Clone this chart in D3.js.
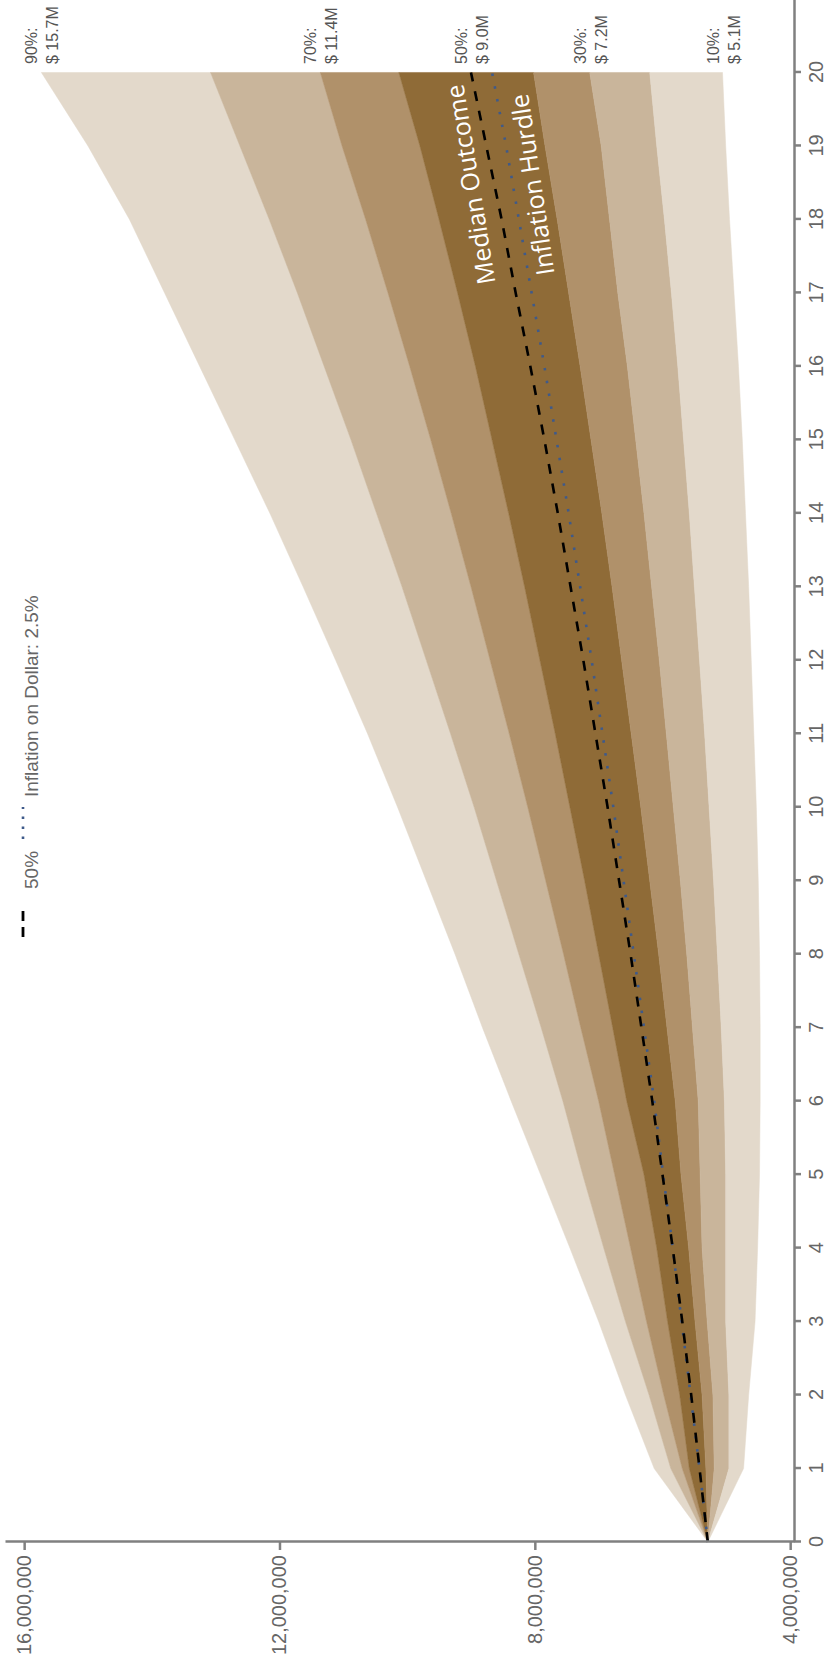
<!DOCTYPE html>
<html>
<head>
<meta charset="utf-8">
<script src="https://cdn.jsdelivr.net/npm/d3@7"></script>
<style>
  html, body { margin: 0; padding: 0; background: #fff; }
  svg { display: block; }
</style>
</head>
<body>
<svg id="chart" width="828" height="1667"></svg>
<script>
// ---- Data (values in millions of dollars) ----
const years = d3.range(0, 21);
const p90 = [5.29, 6.13, 6.58, 7.00, 7.45, 7.91, 8.37, 8.82, 9.25, 9.70, 10.15, 10.62, 11.12, 11.63, 12.15, 12.70, 13.25, 13.80, 14.35, 15.00, 15.73];
const p80 = [5.29, 5.87, 6.21, 6.58, 6.92, 7.25, 7.56, 7.90, 8.25, 8.60, 8.95, 9.32, 9.70, 10.08, 10.48, 10.88, 11.30, 11.72, 12.16, 12.62, 13.08];
const p70 = [5.29, 5.69, 5.98, 6.25, 6.50, 6.75, 7.00, 7.28, 7.55, 7.83, 8.11, 8.40, 8.70, 9.00, 9.31, 9.63, 9.96, 10.30, 10.65, 11.02, 11.36];
const p60 = [5.29, 5.58, 5.73, 5.92, 6.09, 6.29, 6.56, 6.78, 7.00, 7.22, 7.45, 7.68, 7.92, 8.16, 8.41, 8.67, 8.93, 9.21, 9.50, 9.80, 10.13];
const p50 = [5.29, 5.42, 5.55, 5.69, 5.84, 6.00, 6.16, 6.33, 6.50, 6.68, 6.86, 7.05, 7.24, 7.44, 7.64, 7.85, 8.07, 8.30, 8.52, 8.76, 9.00];
const p40 = [5.29, 5.32, 5.38, 5.49, 5.59, 5.71, 5.80, 5.93, 6.06, 6.20, 6.34, 6.49, 6.64, 6.79, 6.95, 7.12, 7.29, 7.47, 7.65, 7.84, 8.02];
const p30 = [5.29, 5.19, 5.21, 5.30, 5.38, 5.41, 5.44, 5.53, 5.62, 5.72, 5.83, 5.94, 6.05, 6.17, 6.29, 6.42, 6.55, 6.70, 6.83, 6.96, 7.14];
const p20 = [5.29, 4.96, 4.96, 5.01, 5.01, 5.01, 5.03, 5.08, 5.14, 5.20, 5.27, 5.34, 5.42, 5.50, 5.58, 5.67, 5.76, 5.86, 5.97, 6.09, 6.20];
const p10 = [5.29, 4.73, 4.65, 4.55, 4.51, 4.48, 4.47, 4.47, 4.48, 4.50, 4.53, 4.57, 4.61, 4.65, 4.70, 4.75, 4.81, 4.88, 4.95, 5.01, 5.06];
const inflation = [5.29, 5.42, 5.56, 5.70, 5.84, 5.99, 6.13, 6.29, 6.45, 6.61, 6.77, 6.94, 7.11, 7.29, 7.47, 7.66, 7.85, 8.05, 8.25, 8.45, 8.67];

const yTicks = [4000000, 8000000, 12000000, 16000000];
const endPcts = ["90%:", "70%:", "50%:", "30%:", "10%:"];
const endVals = ["$ 15.7M", "$ 11.4M", "$ 9.0M", "$ 7.2M", "$ 5.1M"];
const endSeries = [p90, p70, p50, p30, p10];
const legendLabels = ["50%", "Inflation on Dollar: 2.5%"];

// ---- Layout: chart drawn in landscape, rotated -90deg ----
const W = 828, H = 1667;
const svg = d3.select("#chart");
const g = svg.append("g").attr("transform", `translate(0,${H}) rotate(-90)`);

const x = d3.scaleLinear().domain([0, 21]).range([125, 1668]);
const y = d3.scaleLinear().domain([3.94e6, 16.3e6]).range([794, 5]);
const M = 1e6;

const colors = {
  light: "#e3d9cb",
  tan: "#c9b59b",
  mid: "#b0916a",
  dark: "#8f6b37"
};

const bands = [
  [p90, p80, colors.light],
  [p80, p70, colors.tan],
  [p70, p60, colors.mid],
  [p60, p40, colors.dark],
  [p40, p30, colors.mid],
  [p30, p20, colors.tan],
  [p20, p10, colors.light]
];

bands.forEach(([hi, lo, c]) => {
  const area = d3.area()
    .x(i => x(years[i]))
    .y0(i => y(lo[i] * M))
    .y1(i => y(hi[i] * M));
  g.append("path").attr("d", area(d3.range(years.length))).attr("fill", c).attr("stroke", c).attr("stroke-width", 0.5);
});

const lineOf = arr => d3.line().x(i => x(years[i])).y(i => y(arr[i] * M))(d3.range(years.length));

g.append("path").attr("d", lineOf(inflation))
  .attr("fill", "none").attr("stroke", "#3f5a8a").attr("stroke-width", 2.6)
  .attr("stroke-dasharray", "2.5,10.5");
g.append("path").attr("d", lineOf(p50))
  .attr("fill", "none").attr("stroke", "#000").attr("stroke-width", 2.6)
  .attr("stroke-dasharray", "10,10");

// in-chart labels
function interp(arr, t) {
  const i = Math.floor(t);
  return arr[i] + (arr[i + 1] - arr[i]) * (t - i);
}
function chordAngle(arr) {
  const n = arr.length - 1;
  return Math.atan2(y(arr[n] * M) - y(arr[0] * M), x(years[n]) - x(years[0])) * 180 / Math.PI;
}
const tMed = 19.85, tInf = 19.72;
g.append("text")
  .attr("transform", `translate(${x(tMed)},${y(interp(p50, tMed) * M) - 10}) rotate(${chordAngle(p50)})`)
  .attr("text-anchor", "end")
  .attr("font-family", "'Open Sans', 'Noto Sans', sans-serif")
  .attr("font-size", 25).attr("fill", "#fff")
  .text("Median Outcome");
g.append("text")
  .attr("transform", `translate(${x(tInf)},${y(interp(inflation, tInf) * M) + 32}) rotate(${chordAngle(inflation)})`)
  .attr("text-anchor", "end")
  .attr("font-family", "'Open Sans', 'Noto Sans', sans-serif")
  .attr("font-size", 25).attr("fill", "#fff")
  .text("Inflation Hurdle");

// axes
const axisColor = "#808080";
const yAxis = g.append("g").attr("transform", `translate(${x(0)},0)`)
  .call(d3.axisLeft(y).tickValues(yTicks).tickFormat(d3.format(",")).tickSizeInner(8).tickSizeOuter(0).tickPadding(5));
const xAxis = g.append("g").attr("transform", `translate(0,${y.range()[0]})`)
  .call(d3.axisBottom(x).tickValues(years).tickFormat(d3.format("d")).tickSizeInner(7).tickSizeOuter(0).tickPadding(8));
[yAxis, xAxis].forEach(a => {
  a.select(".domain").attr("stroke", axisColor).attr("stroke-width", 2.5);
  a.selectAll(".tick line").attr("stroke", axisColor).attr("stroke-width", 2.5);
  a.selectAll(".tick text").attr("fill", "#666")
    .attr("font-family", "'Liberation Sans', Arial, sans-serif").attr("font-size", 20);
});

// end labels
const endG = g.append("g")
  .attr("font-family", "'Liberation Sans', Arial, sans-serif")
  .attr("font-size", 16).attr("fill", "#555");
endSeries.forEach((s, i) => {
  const yy = y(s[s.length - 1] * M);
  const t = endG.append("text");
  t.append("tspan").attr("x", 1603).attr("y", yy - 4).text(endPcts[i]);
  t.append("tspan").attr("x", 1603).attr("y", yy + 17).text(endVals[i]);
});

// legend
const lg = g.append("g").attr("font-family", "'Liberation Sans', Arial, sans-serif")
  .attr("font-size", 19).attr("fill", "#666");
lg.append("line").attr("x1", 730).attr("x2", 756).attr("y1", 23).attr("y2", 23)
  .attr("stroke", "#000").attr("stroke-width", 2.8).attr("stroke-dasharray", "10,6");
lg.append("text").attr("x", 778).attr("y", 38).text(legendLabels[0]);
lg.append("line").attr("x1", 828).attr("x2", 860).attr("y1", 23).attr("y2", 23)
  .attr("stroke", "#3f5a8a").attr("stroke-width", 2.6).attr("stroke-dasharray", "2.5,7.5");
lg.append("text").attr("x", 870).attr("y", 38).text(legendLabels[1]);
</script>
</body>
</html>
